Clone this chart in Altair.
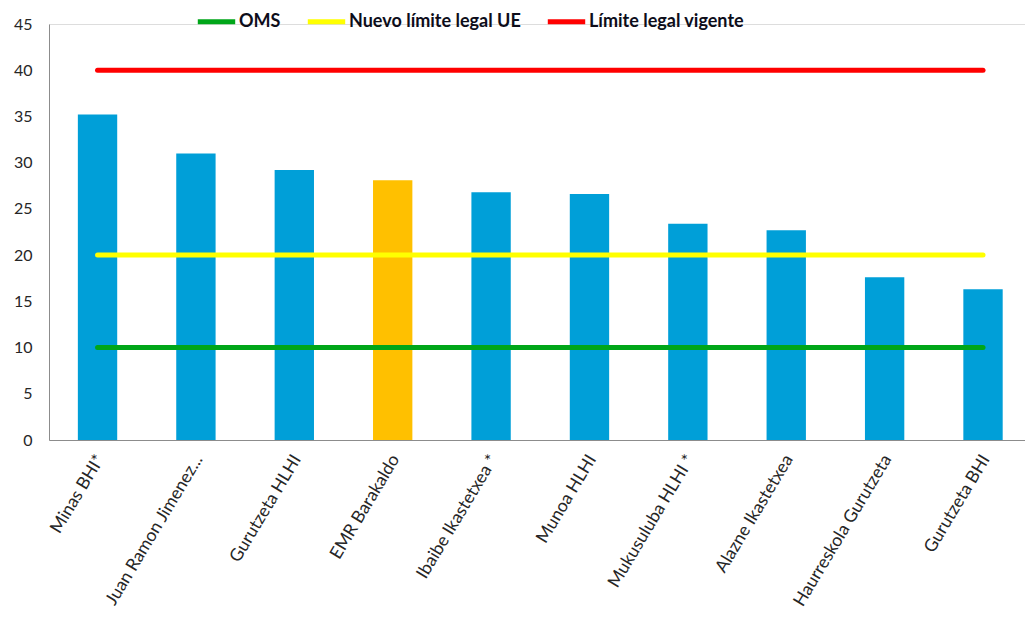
import altair as alt
import pandas as pd

estaciones = ["Minas BHI*", "Juan Ramon Jimenez...", "Gurutzeta HLHI", "EMR Barakaldo",
              "Ibaibe Ikastetxea *", "Munoa HLHI", "Mukusuluba HLHI *", "Alazne Ikastetxea",
              "Haurreskola Gurutzeta", "Gurutzeta BHI"]
valores = [35.2, 31.0, 29.2, 28.1, 26.8, 26.6, 23.4, 22.7, 17.6, 16.3]

limites_nombres = ["OMS", "Nuevo límite legal UE", "Límite legal vigente"]
limites_valores = [10, 20, 40]
limites_colores = ["#00A619", "#FFFF00", "#FF0000"]

resaltada = "EMR Barakaldo"
y_ticks = [0, 5, 10, 15, 20, 25, 30, 35, 40, 45]

bars_df = pd.DataFrame({"estacion": estaciones, "valor": valores})
lines_df = pd.DataFrame([
    {"estacion": e, "limite": n, "valor": v}
    for n, v in zip(limites_nombres, limites_valores)
    for e in estaciones
])

FONT = "Lato"

x_enc = alt.X(
    "estacion:N", sort=estaciones, title=None,
    scale=alt.Scale(paddingInner=0.6, paddingOuter=0.26, align=0.564),
    axis=alt.Axis(labelAngle=-59, labelAlign="right", labelBaseline="middle",
                  labelPadding=16, labelOffset=3, ticks=False, domainColor="#8c8c8c",
                  labelFont=FONT, labelFontSize=17.5, labelColor="#262626",
                  labelLimit=300),
)
y_enc = alt.Y(
    "valor:Q", title=None,
    scale=alt.Scale(domain=[0, 45], nice=False),
    axis=alt.Axis(values=y_ticks, ticks=False, grid=False, domainColor="#8c8c8c",
                  labelFont=FONT, labelFontSize=16, labelColor="#262626",
                  labelPadding=17),
)

bars = alt.Chart(bars_df).mark_bar().encode(
    x=x_enc, y=y_enc,
    color=alt.condition(alt.datum.estacion == resaltada,
                        alt.value("#FFC000"), alt.value("#009FD8")),
)

lines = alt.Chart(lines_df).mark_line(strokeWidth=5, strokeCap="round").encode(
    x=alt.X("estacion:N", sort=estaciones, bandPosition=0.5),
    y="valor:Q",
    color=alt.Color("limite:N",
                    scale=alt.Scale(domain=limites_nombres, range=limites_colores),
                    legend=alt.Legend(orient="none", direction="horizontal",
                                      legendX=146, legendY=-24, title=None,
                                      symbolType="stroke", symbolStrokeWidth=5,
                                      symbolSize=1400, labelFont=FONT,
                                      labelFontSize=18, labelFontWeight="bold",
                                      labelColor="#0d0d1a", labelOffset=1,
                                      columnPadding=16, padding=0, labelLimit=400)),
    detail="limite:N",
)

chart = alt.layer(bars, lines).properties(
    width=976, height=416,
    autosize=alt.AutoSizeParams(type="none"),
    padding={"left": 41, "top": 16, "right": 0, "bottom": 170},
).configure_view(stroke=None).configure(background="white")

chart.save("out.html", embed_options={"renderer": "svg", "actions": False})
